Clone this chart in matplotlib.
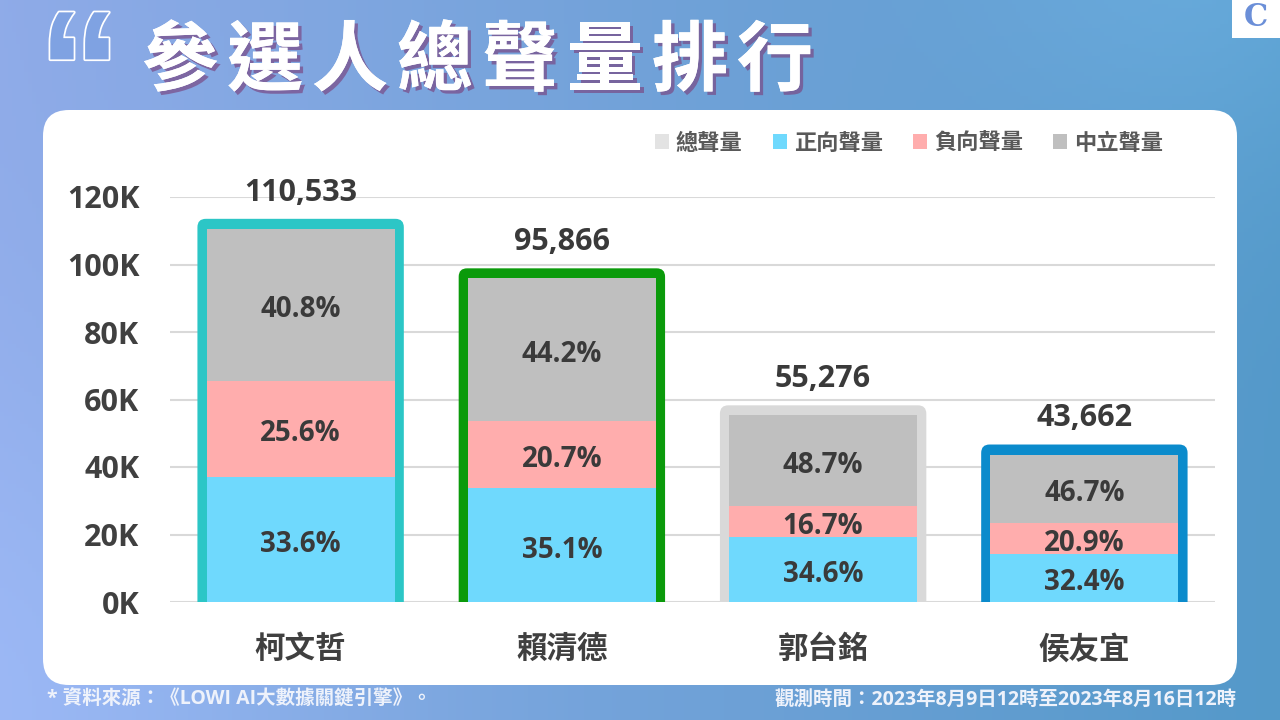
import numpy as np
import matplotlib.pyplot as plt
import matplotlib.patheffects as pe
from matplotlib.patches import FancyBboxPatch, Rectangle, Patch

plt.rcParams['font.family'] = ['Open Sans', 'Noto Sans CJK TC', 'DejaVu Sans']

# ---- data ----
candidates = ['柯文哲', '賴清德', '郭台銘', '侯友宜']
totals = [110533, 95866, 55276, 43662]
pos_pct = [33.6, 35.1, 34.6, 32.4]
neg_pct = [25.6, 20.7, 16.7, 20.9]
neu_pct = [40.8, 44.2, 48.7, 46.7]
frame_colors = ['#2cc6c6', '#0b9a0b', '#d9d9d9', '#0b8bcc']
series_names = ['總聲量', '正向聲量', '負向聲量', '中立聲量']
series_colors = ['#e3e3e3', '#6fd9fd', '#ffadad', '#bfbfbf']
yticks = [0, 20000, 40000, 60000, 80000, 100000, 120000]
ytick_labels = ['0K', '20K', '40K', '60K', '80K', '100K', '120K']
title = '參選人總聲量排行'
source_note = '* 資料來源：《LOWI AI大數據關鍵引擎》。'
period_note = '觀測時間：2023年8月9日12時至2023年8月16日12時'

TXT = '#3a3a3a'

fig = plt.figure(figsize=(12.8, 7.2), dpi=100)

# ---- background (pixel coordinates) ----
bg = fig.add_axes([0, 0, 1, 1])
bg.set_xlim(0, 1280)
bg.set_ylim(720, 0)
bg.axis('off')

X, Y = np.meshgrid(np.linspace(0, 1, 320), np.linspace(0, 1, 180))
left = np.array([0.56, 0.67, 0.91])
right = np.array([0.33, 0.60, 0.79])
img = left * (1 - X[..., None]) + right * X[..., None]
glow = np.exp(-(((X - 0.95) * 1.78) ** 2 + (Y + 0.1) ** 2) / 0.12)
low = np.exp(-((X * 1.78) ** 2 + (Y - 1.0) ** 2) / 0.25)
img = img + 0.06 * glow[..., None] + 0.05 * low[..., None]
img = np.clip(img, 0, 1)
bg.imshow(img, extent=[0, 1280, 720, 0], aspect='auto', zorder=0)

bg.add_patch(FancyBboxPatch((43, 110), 1194, 575,
                            boxstyle='round,pad=0,rounding_size=26',
                            fc='white', ec='none', zorder=1))

# title
bg.text(38, 6, '\u201c', fontsize=120, family='Liberation Sans', weight='bold',
        color='#7fa2e2', va='top', ha='left', zorder=2,
        path_effects=[pe.Stroke(linewidth=2.5, foreground='white'), pe.Normal()])
for k, ch in enumerate(title):
    bg.text(180 + k * 85, 62, ch, fontsize=55, weight='black',
            family=['Noto Sans CJK TC'], color='white', ha='center', va='center',
            zorder=3,
            path_effects=[pe.withSimplePatchShadow(offset=(2.5, -2.5),
                                                   shadow_rgbFace='#7a4a86', alpha=0.7),
                          pe.Normal()])

# logo
bg.add_patch(Rectangle((1232, 0), 48, 38, fc='white', ec='none', zorder=2))
bg.text(1256, 17, 'C', fontsize=22, weight='bold', family='DejaVu Serif',
        color='#6b8fd8', ha='center', va='center', zorder=3)

# footer
bg.text(47, 700, source_note, fontsize=14, weight='bold', color='#eef2fb',
        ha='left', va='center', zorder=3)
bg.text(1237, 700, period_note, fontsize=14, weight='bold', color='#eef2fb',
        ha='right', va='center', zorder=3)

# ---- chart ----
ax = fig.add_axes([170 / 1280, 1 - 602 / 720, 1045 / 1280, 405 / 720])
ax.set_facecolor('none')
ax.set_xlim(-0.5, 3.5)
ax.set_ylim(0, 120000)

x = np.arange(len(candidates))
totals_a = np.array(totals, dtype=float)
pos = totals_a * np.array(pos_pct) / 100
neg = totals_a * np.array(neg_pct) / 100
neu = totals_a * np.array(neu_pct) / 100

# rounded total frames behind the stacks
asp = (120000 / 405) / (4 / 1045)
for i in range(len(candidates)):
    ax.add_patch(FancyBboxPatch((x[i] - 0.395, -6000), 0.79, totals[i] + 3000 + 6000,
                                boxstyle='round,pad=0,rounding_size=0.032',
                                mutation_aspect=asp, fc=frame_colors[i], ec='none',
                                zorder=2))

ax.bar(x, pos, width=0.72, color=series_colors[1], zorder=3)
ax.bar(x, neg, width=0.72, bottom=pos, color=series_colors[2], zorder=3)
ax.bar(x, neu, width=0.72, bottom=pos + neg, color=series_colors[3], zorder=3)

for i in range(len(candidates)):
    segs = [(0, pos[i], pos_pct[i]), (pos[i], neg[i], neg_pct[i]),
            (pos[i] + neg[i], neu[i], neu_pct[i])]
    for b, h, p in segs:
        ax.annotate(f'{p:.1f}%', (x[i], b + h / 2), xytext=(0, -3.5),
                    textcoords='offset points', ha='center', va='center',
                    fontsize=20, weight='bold', color=TXT, zorder=5)
    ax.annotate(f'{totals[i]:,}', (x[i], totals[i] + 3000), xytext=(0, 8),
                textcoords='offset points', ha='center', va='bottom',
                fontsize=22, weight='bold', color=TXT, annotation_clip=False)

ax.set_yticks(yticks, ytick_labels)
ax.set_xticks(x, candidates)
for lab in ax.get_yticklabels():
    lab.set_fontsize(22)
    lab.set_fontweight('bold')
    lab.set_color('#404040')
for lab in ax.get_xticklabels():
    lab.set_fontsize(22)
    lab.set_fontweight('bold')
    lab.set_color('#404040')
ax.tick_params(axis='y', length=0, pad=22)
ax.tick_params(axis='x', length=0, pad=24)
ax.grid(axis='y', color='#d9d9d9', lw=1.5, zorder=1)
ax.set_axisbelow(True)
for s in ax.spines.values():
    s.set_visible(False)

handles = [Patch(fc=c, ec='none', label=n) for n, c in zip(series_names, series_colors)]
leg = ax.legend(handles=handles, ncol=4, loc='center right',
                bbox_to_anchor=(1174 / 1280, 1 - 144 / 720),
                bbox_transform=fig.transFigure, frameon=False,
                prop={'size': 16, 'weight': 'bold'}, labelcolor='#595959',
                handlelength=0.65, handleheight=0.65, handletextpad=0.3,
                columnspacing=1.35, borderpad=0)

fig.savefig('out.png', dpi=100)
